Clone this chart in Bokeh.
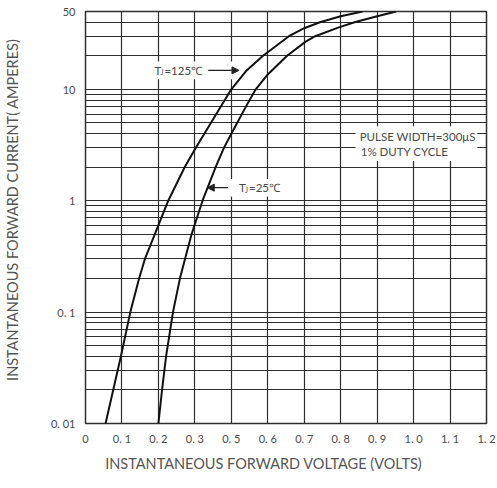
from bokeh.plotting import figure
from bokeh.models import FixedTicker, Label, Arrow, NormalHead, BoxAnnotation, Range1d
from bokeh.embed import file_html
from bokeh.resources import INLINE

# Axis ticks (positions on the printed grid) and their printed labels
x_ticks = [0.0, 0.1, 0.2, 0.3, 0.4, 0.5, 0.6, 0.7, 0.8, 0.9, 1.0, 1.1]
x_tick_labels = ["0", "0. 1", "0. 2", "0. 3", "0. 5", "0. 6", "0. 7", "0. 8", "0. 9", "1. 0", "1. 1", "1. 2"]
y_ticks = [0.01, 0.1, 1.0, 10.0, 50.0]
y_tick_labels = ["0. 01", "0. 1", "1", "10", "50"]
y_grid_values = [0.01, 0.02, 0.03, 0.04, 0.05, 0.06, 0.07, 0.08, 0.09,
                 0.1, 0.2, 0.3, 0.4, 0.5, 0.6, 0.7, 0.8, 0.9,
                 1.0, 2.0, 3.0, 4.0, 5.0, 6.0, 7.0, 8.0, 9.0,
                 10.0, 20.0, 30.0, 40.0, 50.0]

# Tj = 125 C curve (x in printed-grid units, current in amperes)
v_125 = [0.055, 0.076, 0.097, 0.123, 0.147, 0.163, 0.190, 0.227, 0.272, 0.303, 0.326,
         0.400, 0.442, 0.487, 0.558, 0.600, 0.643, 0.700, 0.760]
i_125 = [0.01, 0.02, 0.04, 0.1, 0.2, 0.3, 0.5, 1.0, 2.0, 3.0, 4.0,
         10.0, 14.8, 20.0, 30.0, 35.4, 40.0, 45.3, 50.0]
# Tj = 25 C curve
v_25 = [0.200, 0.210, 0.221, 0.240, 0.259, 0.273, 0.291, 0.321, 0.357, 0.380, 0.400,
        0.446, 0.467, 0.500, 0.553, 0.603, 0.630, 0.695, 0.738, 0.800, 0.852]
i_25 = [0.01, 0.02, 0.04, 0.1, 0.2, 0.3, 0.5, 1.0, 2.0, 3.0, 4.0,
        7.6, 10.0, 13.6, 20.0, 26.7, 30.0, 36.0, 40.0, 45.3, 50.0]

FONT = "Lato"
GRID = "#2e2e2e"
TXT = "#4a4a4a"
NB = "\u00a0"

p = figure(width=497, height=488, y_axis_type="log",
           x_range=Range1d(0, 1.1), y_range=Range1d(0.01, 50),
           output_backend="svg", toolbar_location=None,
           min_border_left=84, min_border_right=11, min_border_top=11, min_border_bottom=65)

p.background_fill_color = "white"
p.border_fill_color = "white"
p.outline_line_color = GRID
p.outline_line_width = 1.5

# grids
p.xgrid.ticker = FixedTicker(ticks=x_ticks)
p.ygrid.ticker = FixedTicker(ticks=y_grid_values)
for g in (p.xgrid, p.ygrid):
    g.grid_line_color = GRID
    g.grid_line_width = 1.2
    g.grid_line_alpha = 1.0

# axes
p.xaxis.ticker = FixedTicker(ticks=x_ticks)
p.xaxis.major_label_overrides = {t: l for t, l in zip(x_ticks, x_tick_labels)}
p.yaxis.ticker = FixedTicker(ticks=y_ticks)
p.yaxis.major_label_overrides = {t: l for t, l in zip(y_ticks, y_tick_labels)}
for ax in (p.xaxis, p.yaxis):
    ax.axis_line_color = None
    ax.major_tick_line_color = None
    ax.minor_tick_line_color = None
    ax.major_tick_out = 0
    ax.major_tick_in = 0
    ax.minor_tick_out = 0
    ax.major_label_text_font = FONT
    ax.major_label_text_font_size = "11px"
    ax.major_label_text_color = TXT
    ax.axis_label_text_font = FONT
    ax.axis_label_text_font_size = "14.5px"
    ax.axis_label_text_font_style = "normal"
    ax.axis_label_text_color = "#555555"
p.xaxis.major_label_standoff = 8
p.yaxis.major_label_standoff = 10
p.yaxis.major_label_orientation = "horizontal"
# trailing / leading no-break spaces shift the centred titles as in the original
p.xaxis.axis_label = "INSTANTANEOUS FORWARD VOLTAGE (VOLTS)" + NB * 12
p.yaxis.axis_label = NB * 4 + "INSTANTANEOUS FORWARD CURRENT(" + NB + "AMPERES)"
p.xaxis.axis_label_standoff = 7
p.yaxis.axis_label_standoff = 27

# white backgrounds behind annotations (cut the grid)
for (l, r, b, t) in [(0.18, 0.425, 12.3, 17.8), (0.33, 0.56, 1.09, 1.57), (0.741, 1.075, 2.27, 4.67)]:
    p.add_layout(BoxAnnotation(left=l, right=r, bottom=b, top=t, fill_color="white",
                               fill_alpha=1.0, line_color=None, level="underlay"))

# curves
p.line(v_125, i_125, line_color="#111111", line_width=2, line_join="round")
p.line(v_25, i_25, line_color="#111111", line_width=2, line_join="round")

def tj_label(x, y, rest):
    p.add_layout(Label(x=x, y=y, text="T", text_font=FONT, text_font_size="11.5px",
                       text_color=TXT, text_baseline="middle"))
    p.add_layout(Label(x=x, y=y, x_offset=6, y_offset=-2, text="J", text_font=FONT,
                       text_font_size="7px", text_color=TXT, text_baseline="middle"))
    p.add_layout(Label(x=x, y=y, x_offset=10, text=rest, text_font=FONT, text_font_size="11.5px",
                       text_color=TXT, text_baseline="middle"))

tj_label(0.189, 14.8, "=125℃")
tj_label(0.421, 1.31, "=25℃")

p.add_layout(Arrow(x_start=0.3365, y_start=14.8, x_end=0.421, y_end=14.8,
                   line_color="#222222", line_width=1.2,
                   end=NormalHead(size=7, fill_color="#222222", line_color="#222222")))
p.add_layout(Arrow(x_start=0.391, y_start=1.31, x_end=0.334, y_end=1.31,
                   line_color="#222222", line_width=1.2,
                   end=NormalHead(size=7, fill_color="#222222", line_color="#222222")))

p.add_layout(Label(x=0.752, y=3.81, text="PULSE WIDTH=300μS", text_font=FONT,
                   text_font_size="11.5px", text_color=TXT, text_baseline="middle"))
p.add_layout(Label(x=0.755, y=2.79, text="1% DUTY CYCLE", text_font=FONT,
                   text_font_size="11.5px", text_color=TXT, text_baseline="middle"))

open("out.html", "w").write(file_html(p, INLINE))
